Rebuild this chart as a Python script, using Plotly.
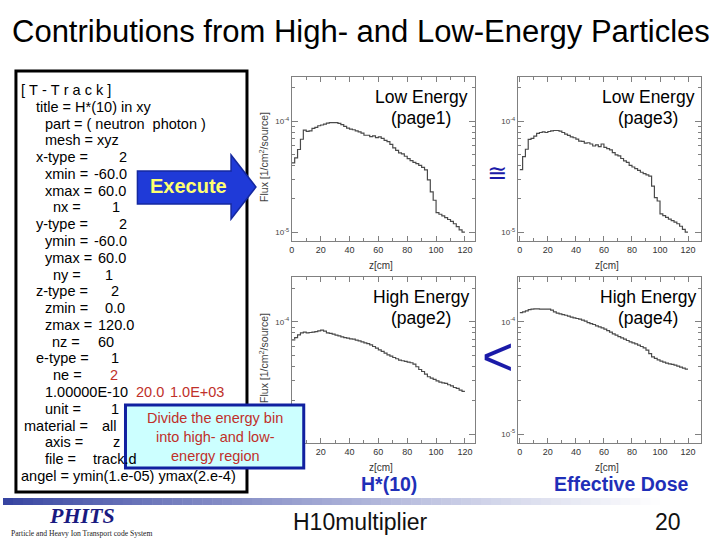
import plotly.graph_objects as go

W, H = 720, 540
def px(x): return x / W
def py(y): return 1 - y / H

# ---------------- data ----------------
z_edges = list(range(0, 122, 2))          # nz = 60 bins, 0..120 cm
unit = 1e-5
low_page1 = [4.21, 4.67, 5.57, 6.89, 8.33, 8.10, 8.21, 8.63, 8.81, 9.12,
             9.26, 9.45, 9.65, 9.72, 9.72, 9.72, 9.59, 9.32, 9.00, 8.69,
             8.50, 8.39, 8.21, 8.04, 7.82, 7.49, 7.49, 7.29, 7.39, 7.13,
             7.23, 7.03, 6.74, 6.56, 6.19, 5.77, 5.46, 5.19, 5.09, 4.84,
             4.61, 4.42, 4.27, 4.15, 4.00, 3.84, 3.65, 2.96, 2.31, 1.94,
             1.50, 1.45, 1.40, 1.35, 1.30, 1.25, 1.19, 1.12, 1.05, 1.00]
high_page2 = [6.91, 7.25, 7.66, 7.98, 8.09, 7.98, 8.04, 8.09, 8.20, 8.31,
              8.43, 8.26, 7.98, 7.88, 7.77, 7.61, 7.50, 7.36, 7.25, 7.16,
              7.06, 7.01, 6.87, 6.77, 6.64, 6.50, 6.41, 6.24, 6.03, 5.83,
              5.63, 5.45, 5.26, 5.08, 4.95, 4.81, 4.69, 4.56, 4.50, 4.44,
              4.38, 4.32, 4.20, 3.98, 3.76, 3.61, 3.42, 3.24, 3.15, 3.07,
              2.98, 2.90, 2.86, 2.83, 2.75, 2.69, 2.60, 2.55, 2.46, 2.40]
low_page3 = [3.66, 4.81, 5.60, 6.87, 7.01, 7.36, 7.77, 7.93, 8.04, 7.93,
             8.09, 8.20, 8.26, 8.26, 8.15, 7.93, 7.66, 7.46, 7.25, 7.11,
             6.91, 6.64, 6.59, 6.37, 6.41, 6.24, 5.99, 6.12, 5.91, 6.24,
             5.83, 5.67, 5.52, 5.22, 4.98, 4.88, 4.62, 4.40, 4.26, 4.00,
             3.87, 3.74, 3.61, 3.47, 3.37, 3.28, 3.20, 2.60, 2.05, 1.91,
             1.46, 1.41, 1.36, 1.31, 1.27, 1.23, 1.19, 1.13, 1.06, 1.00]
high_page4 = [12.11, 12.27, 12.53, 12.88, 12.97, 13.06, 13.06, 12.97, 12.97, 12.97,
              12.97, 12.70, 12.27, 11.95, 11.78, 11.62, 11.46, 11.23, 11.00, 10.85,
              10.71, 10.56, 10.35, 10.14, 9.86, 9.66, 9.47, 9.21, 9.03, 8.84,
              8.60, 8.37, 8.09, 7.82, 7.61, 7.40, 7.21, 7.01, 6.82, 6.64,
              6.50, 6.37, 6.20, 6.03, 5.87, 5.60, 5.22, 4.88, 4.72, 4.59,
              4.47, 4.38, 4.29, 4.23, 4.17, 4.11, 4.03, 3.95, 3.87, 3.79]

x_tick_vals = [0, 20, 40, 60, 80, 100, 120]
x_tick_text = ["0", "20", "40", "60", "80", "100", "120"]
x_minor_vals = [10, 30, 50, 70, 90, 110]
y_tick_vals = [1e-5, 1e-4]
y_tick_text = ["10<sup>-5</sup>", "10<sup>-4</sup>"]
y_minor_vals = [2e-5, 3e-5, 4e-5, 5e-5, 6e-5, 7e-5, 8e-5, 9e-5, 2e-4]

panel_labels = [("Low Energy", "(page1)"), ("High Energy", "(page2)"),
                ("Low Energy", "(page3)"), ("High Energy", "(page4)")]
series = [low_page1, high_page2, low_page3, high_page4]

title_text = "Contributions from High- and Low-Energy Particles"

NB = "\u00a0"
code_lines = [
    ("[ T - T r a c k ]".replace(" ", NB), ""),
    ("title = H*(10) in xy", ""),
    ("part = ( neutron  photon )".replace(" ", NB), ""),
    ("mesh =", "xyz"),
    ("x-type =", "2"),
    ("xmin =", "-60.0"),
    ("xmax =", "60.0"),
    ("nx =", "1"),
    ("y-type =", "2"),
    ("ymin =", "-60.0"),
    ("ymax =", "60.0"),
    ("ny =", "1"),
    ("z-type =", "2"),
    ("zmin =", "0.0"),
    ("zmax =", "120.0"),
    ("nz =", "60"),
    ("e-type =", "1"),
    ("ne =", "2"),
    ("1.00000E-10", "20.0"),
    ("unit =", "1"),
    ("material =", "all"),
    ("axis =", "z"),
    ("file =", "track.d"),
    ("angel = ymin(1.e-05) ymax(2.e-4)", ""),
]
extra_value = "1.0E+03"
red_lines = {17, 18}
box_text = ["Divide the energy bin", "into high- and low-", "energy region"]

# ---------------- layout geometry ----------------
label_x = [16, 31, 40, 40, 31, 40, 40, 48, 31, 40, 40, 48, 31, 40, 40, 47, 31, 48, 40, 40, 19, 40, 40, 16]
value_x = [None, None, None, 92, 114, 89, 93, 107, 114, 89, 93, 100, 106, 100, 93, 93, 106, 105, 132, 106, 97, 108, 88, None]

col_x = [(290, 474), (517, 701)]
row_y = [(77, 241), (277, 443)]
x_ranges = [[0, 127], [-1.4, 129.3]]
y_range = [-5.08, -3.6]

fig = go.Figure()

panel_pos = [(0, 0), (0, 1), (1, 0), (1, 1)]
axis_font = dict(family="Liberation Sans", size=9, color="#333")
RED = "#c0302a"
BLUE_TXT = "#1f2fb8"

for i, (vals, (c, r)) in enumerate(zip(series, panel_pos)):
    n = i + 1
    xa = "x" if n == 1 else f"x{n}"
    ya = "y" if n == 1 else f"y{n}"
    yv = [v * unit for v in vals] + [vals[-1] * unit]
    fig.add_trace(go.Scatter(x=z_edges, y=yv, mode="lines",
                             line=dict(color="#4a4a4a", width=1.2, shape="hv"),
                             xaxis=xa, yaxis=ya, hoverinfo="skip", showlegend=False))
    x0, x1 = col_x[c]
    y0, y1 = row_y[r]
    xkey = "xaxis" if n == 1 else f"xaxis{n}"
    ykey = "yaxis" if n == 1 else f"yaxis{n}"
    fig.update_layout(**{
        xkey: dict(domain=[px(x0), px(x1)], anchor=ya, range=x_ranges[c],
                   showline=True, linecolor="#808080", linewidth=1, mirror="ticks",
                   ticks="inside", ticklen=5, tickcolor="#808080",
                   tickvals=x_tick_vals, ticktext=x_tick_text, tickfont=axis_font,
                   showgrid=False, zeroline=False, fixedrange=True,
                   minor=dict(ticks="inside", ticklen=3, tickcolor="#808080",
                              tickvals=x_minor_vals, showgrid=False)),
        ykey: dict(domain=[py(y1), py(y0)], anchor=xa, type="log", range=y_range,
                   showline=True, linecolor="#808080", linewidth=1, mirror="ticks",
                   ticks="inside", ticklen=6, tickcolor="#808080",
                   tickvals=y_tick_vals, ticktext=y_tick_text,
                   tickfont=dict(family="Liberation Sans", size=8, color="#444"),
                   showgrid=False, zeroline=False, fixedrange=True,
                   minor=dict(ticks="inside", ticklen=3, tickcolor="#808080",
                              tickvals=y_minor_vals, showgrid=False)),
    })

annotations = []
def ann(text, x, y, size, color="#000", family="Liberation Sans", xanchor="center",
        yanchor="middle", angle=0):
    annotations.append(dict(text=text, x=px(x), y=py(y), xref="paper", yref="paper",
                            showarrow=False, xanchor=xanchor, yanchor=yanchor,
                            textangle=angle,
                            font=dict(size=size, color=color, family=family)))

# title
ann(title_text, 359, 32, 31, "#000")

# panel labels and axis titles
for (l1, l2), (c, r) in zip(panel_labels, panel_pos):
    cx = (col_x[c][0] + col_x[c][1]) / 2
    tx = 420 if c == 0 else 648
    ty = row_y[r][0] + 20
    ann(l1, tx, ty, 17.5, "#000")
    ann(l2, tx, ty + 21, 17.5, "#000")
    ann("z[cm]", cx - 2, row_y[r][1] + 24, 10, "#333")
for r in range(2):
    ann("Flux [1/cm<sup>2</sup>/source]", 261, (row_y[r][0] + row_y[r][1]) / 2 - 2, 10.5, "#444", angle=-90)

# code text
for i, (lab, val) in enumerate(code_lines):
    y = 90 + i * 16.78
    ann(lab, label_x[i], y, 14.5, "#000", xanchor="left")
    if val:
        ann(val, value_x[i], y, 14.5, RED if i in red_lines else "#000", xanchor="left")
ann(extra_value, 166, 90 + 18 * 16.78, 14.5, RED, xanchor="left")

shapes = []
def rect(x0, y0, x1, y1, fill=None, line=None, lw=0):
    shapes.append(dict(type="rect", xref="paper", yref="paper",
                       x0=px(x0), x1=px(x1), y0=py(y1), y1=py(y0),
                       fillcolor=fill if fill else "rgba(0,0,0,0)",
                       line=dict(color=line if line else "rgba(0,0,0,0)", width=lw),
                       layer="above"))

# code box frame
rect(13, 71, 245, 492, None, "#000", 3)

# Execute arrow
pts = [(135, 171), (229, 171), (229, 155), (254, 187), (229, 219), (229, 204), (135, 204)]
path = "M " + " L ".join(f"{px(x):.5f},{py(y):.5f}" for x, y in pts) + " Z"
shapes.append(dict(type="path", path=path, xref="paper", yref="paper",
                   fillcolor="#1f3ad8", line=dict(color="#1428a0", width=1.5), layer="above"))
ann("<b>Execute</b>", 186, 186, 20, "#ffff70")

# cyan note box
rect(123, 405, 302, 468, "#ccffff", "#1020a0", 3)
for k, t in enumerate(box_text):
    ann(t, 213, 418 + k * 19, 14.5, RED)

# relation symbols
ann("≅", 496, 173, 24, "#1a1aa8", family="DejaVu Sans")
ann("<", 497, 356, 54, "#1a1aa8", family="Liberation Sans")

# bottom labels
ann("<b>H*(10)</b>", 388, 484, 19.5, BLUE_TXT)
ann("<b>Effective Dose</b>", 621, 484, 19.5, BLUE_TXT)

# gradient bar
n_seg = 72
for k in range(n_seg):
    x0 = k * W / n_seg
    t = min(1.0, (x0 + 5) / 660)
    t = t ** 0.85
    rgb = [int(a + (255 - a) * t) for a in (52, 66, 160)]
    rect(x0, 498, x0 + W / n_seg + 0.5, 505, f"rgb({rgb[0]},{rgb[1]},{rgb[2]})")

# footer
ann("<b><i>PHITS</i></b>", 79, 515, 22, "#1a1a80", family="Liberation Serif")
ann("Particle and Heavy Ion Transport code System", 79, 533, 7.6, "#222", family="Liberation Serif")
ann("H10multiplier", 359, 522, 23, "#111")
ann("20", 668, 522, 23, "#111")

fig.update_layout(width=W, height=H, autosize=False,
                  margin=dict(l=0, r=0, t=0, b=0),
                  paper_bgcolor="white", plot_bgcolor="white",
                  font=dict(family="Liberation Sans"),
                  showlegend=False, annotations=annotations, shapes=shapes)

fig.write_html("out.html")
